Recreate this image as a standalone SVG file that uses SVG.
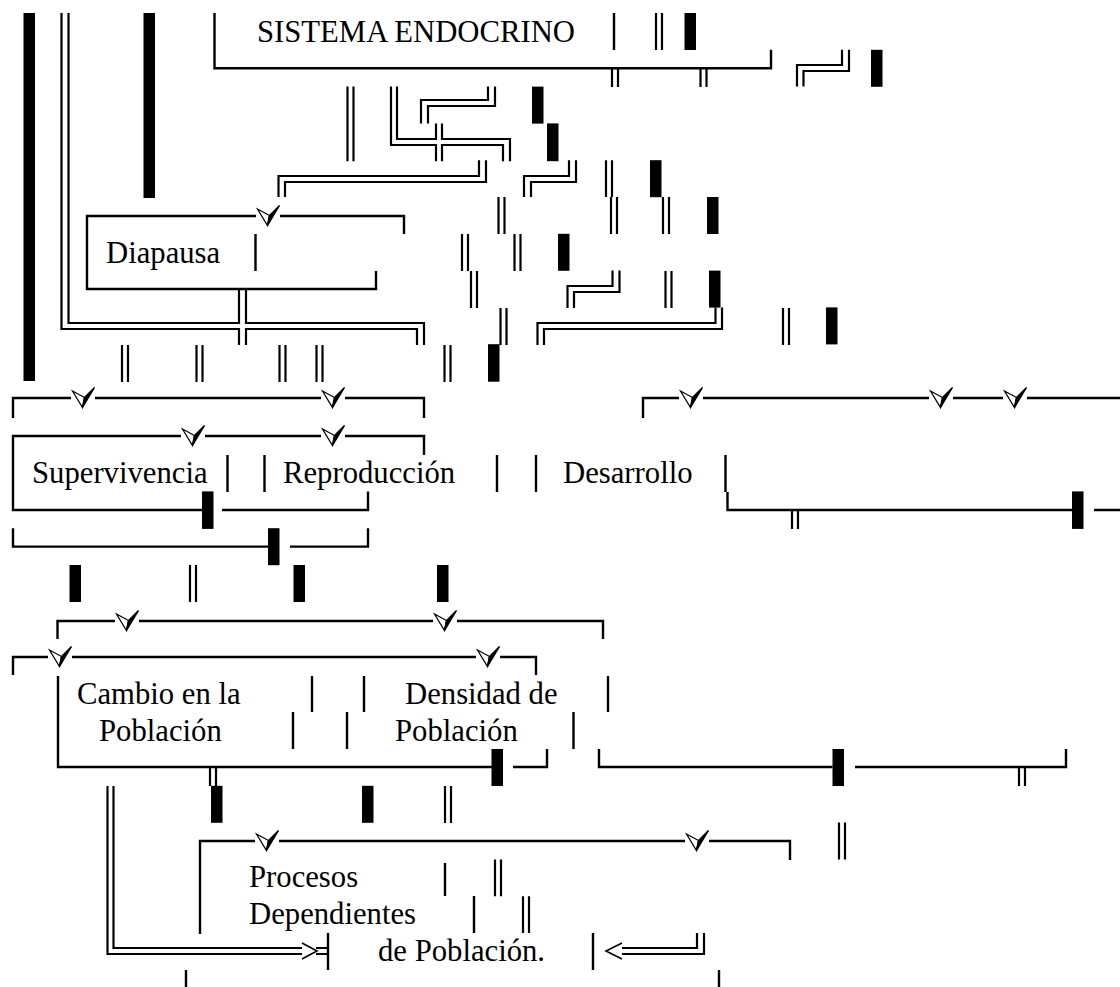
<svg xmlns="http://www.w3.org/2000/svg" xmlns:xlink="http://www.w3.org/1999/xlink" width="1120" height="987" viewBox="0 0 1120 987">
<style>
.s{stroke:#000;stroke-width:2.4;fill:none}
.d{stroke:#000;stroke-width:2.2;fill:none}
.c{stroke:#000;stroke-width:1.6;fill:none}
.b{fill:#000}
.t{font-family:"Liberation Serif","Times New Roman",serif;font-size:30.7px;fill:#000}
</style>
<defs>
<g id="arr">
<polygon points="-10.5,-7 1.5,-0.5 -0.5,9.5" fill="#fff" stroke="#000" stroke-width="1.2" stroke-linejoin="miter"/>
<polygon points="1.5,-0.5 11.5,-10.5 -0.5,9.5" fill="#000" stroke="#000" stroke-width="1.4" stroke-linejoin="miter"/>
</g>
</defs>
<rect width="1120" height="987" fill="#fff"/>

<g id="n-sistema">
<path class="s" d="M214.5,13 V68.2 H771 V49.8"/>
<text class="t" x="257" y="42">SISTEMA ENDOCRINO</text>
</g>
<g id="n-diapausa">
<path class="s" d="M404,234 V216 H280 M256,216 H87 V289 H376 V271"/>
<text class="t" x="106" y="262.5">Diapausa</text>
</g>
<g id="n-supervivencia">
<path class="s" d="M424,455 V436 H345 M321,436 H205 M181,436 H13 V510 H202 M222,510 H368 V491.4"/>
<text class="t" x="32" y="482.5">Supervivencia</text>
</g>
<g id="n-reproduccion">
<text class="t" x="283" y="482.5">Reproducción</text>
</g>
<g id="n-desarrollo">
<path class="s" d="M725.5,455 V492 M727.5,492 V510 H1072 M1094,510 H1120"/>
<text class="t" x="563" y="482.5">Desarrollo</text>
</g>
<g id="n-cambio">
<path class="s" d="M58,676 V767 H492 M513,767 H547 V749"/>
<text class="t" x="77" y="703.5">Cambio en la</text>
<text class="t" x="99" y="740.5">Población</text>
</g>
<g id="n-densidad">
<text class="t" x="405" y="703.5">Densidad de</text>
<text class="t" x="395" y="740.5">Población</text>
</g>
<g id="n-procesos">
<path class="s" d="M200,934 V841 H255 M279,841 H685 M709,841 H790 V860"/>
<text class="t" x="249" y="887">Procesos</text>
<text class="t" x="249" y="924">Dependientes</text>
<text class="t" x="378" y="961">de Población.</text>
</g>

<g id="connectors">
<rect class="b" x="23.5" y="13" width="11.5" height="368"/>
<rect class="b" x="143.5" y="13" width="11.5" height="185"/>
<rect class="b" x="684.5" y="13" width="11.5" height="37"/>
<rect class="b" x="871" y="49.8" width="11.5" height="37"/>
<rect class="b" x="532" y="86.6" width="11.5" height="37"/>
<rect class="b" x="547" y="123.4" width="11.5" height="37.8"/>
<rect class="b" x="650" y="160.2" width="11.5" height="37"/>
<rect class="b" x="707" y="197" width="11.5" height="37"/>
<rect class="b" x="558" y="233.8" width="11.5" height="37"/>
<rect class="b" x="709" y="270.6" width="11.5" height="37"/>
<rect class="b" x="826" y="307.4" width="11.5" height="37"/>
<rect class="b" x="488" y="344.2" width="11.5" height="37.5"/>
<rect class="b" x="202" y="491.4" width="11.5" height="37.5"/>
<rect class="b" x="1072" y="491.4" width="11.5" height="37.5"/>
<rect class="b" x="268" y="528.2" width="11.5" height="37"/>
<rect class="b" x="69.5" y="565" width="11.5" height="37"/>
<rect class="b" x="293.5" y="565" width="11.5" height="37"/>
<rect class="b" x="437" y="565" width="11.5" height="37"/>
<rect class="b" x="491.5" y="749" width="11.5" height="37"/>
<rect class="b" x="832.5" y="749" width="11.5" height="37"/>
<rect class="b" x="211" y="785.8" width="11.5" height="37"/>
<rect class="b" x="362" y="785.8" width="11.5" height="37"/>

<path class="d" d="
M656,13 V50 M662,13 V50
M612,68 V87 M618,68 V87
M700.5,68 V87 M706.5,68 V87
M347.5,86.6 V161.2 M353.5,86.6 V161.2
M606,160.2 V197 M612,160.2 V197
M498.5,197 V234 M504.5,197 V234
M611,197 V234 M617,197 V234
M663,197 V234 M669,197 V234
M462,234 V271 M468,234 V271
M514.5,234 V271 M520.5,234 V271
M471,271 V308 M477,271 V308
M665.5,271 V308 M671.5,271 V308
M500.5,308 V345 M506.5,308 V345
M783,308 V345 M789,308 V345
M122,345 V382 M128,345 V382
M196.5,345 V382 M202.5,345 V382
M279.5,345 V382 M285.5,345 V382
M316.5,345 V382 M322.5,345 V382
M444.5,345 V382 M450.5,345 V382
M792,510 V529 M798,510 V529
M190,565 V602 M196,565 V602
M210,767 V786 M216,767 V786
M1019,767 V786 M1025,767 V786
M445,786 V823 M451,786 V823
M839,822.6 V859.4 M845,822.6 V859.4
M495,859.4 V896.2 M501,859.4 V896.2
M523,896.2 V933 M529,896.2 V933"/>

<path class="d" d="M61.5,13 V329 H239 V345 M68.5,13 V323 H239 V289 M246,289 V323 H424 V345 M246,345 V329 H417 V345"/>
<path class="d" d="M391,86.6 V145 H436 V161.2 M397,86.6 V139 H436 V123.4 M442,123.4 V139 H510 V161.2 M442,161.2 V145 H503 V161.2"/>
<path class="d" d="M421,123.4 V100 H488 V86.6 M428,123.4 V106 H495 V86.6"/>
<path class="d" d="M797,86.6 V65 H842 V49.8 M803.5,86.6 V71 H849 V49.8"/>
<path class="d" d="M278.5,197 V176 H479 V160.2 M285,197 V182 H486 V160.2"/>
<path class="d" d="M524,197 V176 H569 V160.2 M531,197 V182 H576 V160.2"/>
<path class="d" d="M567.5,308 V286 H612.5 V270.6 M574,308 V292 H619.5 V270.6"/>
<path class="d" d="M537.5,345 V323 H715.5 V307.4 M544,345 V329 H722 V307.4"/>
<path class="d" d="M107.5,786 V954 H302 M113.5,786 V948 H302 M316,948 H328 M316,954 H328"/>
<path class="c" d="M302,943 L317,951 L302,959"/>
<path class="d" d="M622,948 H697 V933 M622,954 H704 V933"/>
<path class="c" d="M622,943 L606,951 L622,959"/>

<path class="s" d="
M614,13 V50
M255.5,234 V271
M227.5,455 V492 M264.5,455 V492 M497,455 V492 M536,455 V492
M312,676 V712 M364,676 V712 M608,676 V712
M293,712 V749 M347,712 V749 M573.5,712 V749
M445,863 V896 M474,896 V933
M328,933 V970 M593,933 V970
M186,970 V987 M719,970 V987"/>

<path class="s" d="M13,418 V398 H71 M95,398 H321 M345,398 H424 V418"/>
<path class="s" d="M643,418 V398 H679 M703,398 H929 M953,398 H1003 M1027,398 H1120"/>
<path class="s" d="M13,528.2 V546.6 H268 M290,546.6 H368 V528.2"/>
<path class="s" d="M57.5,639 V621 H115 M139,621 H433 M457,621 H603 V639"/>
<path class="s" d="M13,675 V657 H48 M72,657 H476 M500,657 H536 V675"/>
<path class="s" d="M599,749 V767 H832.5 M855,767 H1066 V749"/>

<use xlink:href="#arr" x="268" y="216"/>
<use xlink:href="#arr" x="83" y="398"/>
<use xlink:href="#arr" x="333" y="398"/>
<use xlink:href="#arr" x="691" y="398"/>
<use xlink:href="#arr" x="941" y="398"/>
<use xlink:href="#arr" x="1015" y="398"/>
<use xlink:href="#arr" x="193" y="436"/>
<use xlink:href="#arr" x="333" y="436"/>
<use xlink:href="#arr" x="127" y="621"/>
<use xlink:href="#arr" x="445" y="621"/>
<use xlink:href="#arr" x="60" y="657"/>
<use xlink:href="#arr" x="488" y="657"/>
<use xlink:href="#arr" x="267" y="841"/>
<use xlink:href="#arr" x="697" y="841"/>
</g>
</svg>
